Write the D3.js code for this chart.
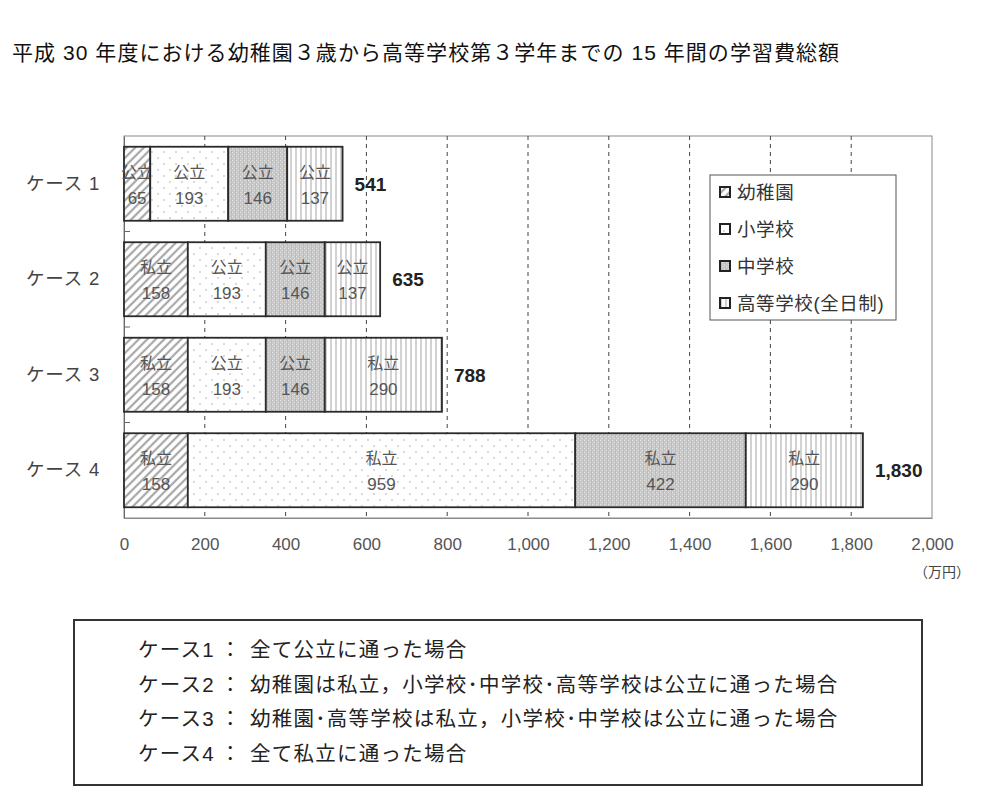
<!DOCTYPE html>
<html>
<head>
<meta charset="utf-8">
<script src="https://cdn.jsdelivr.net/npm/d3@7"></script>
<style>
  body { margin: 0; background: #fff; }
  text { font-family: "Liberation Sans", "Noto Sans CJK JP", sans-serif; }
</style>
</head>
<body>
<div id="chart"></div>
<script>
// data
var cases       = ['ケース 1', 'ケース 2', 'ケース 3', 'ケース 4'];
var stages      = ['幼稚園', '小学校', '中学校', '高等学校(全日制)'];
var kinder      = [65, 158, 158, 158];
var elementary  = [193, 193, 193, 959];
var junior      = [146, 146, 146, 422];
var high        = [137, 137, 290, 290];
var kinderType  = ['公立', '私立', '私立', '私立'];
var elemType    = ['公立', '公立', '公立', '私立'];
var juniorType  = ['公立', '公立', '公立', '私立'];
var highType    = ['公立', '公立', '私立', '私立'];
var totals      = [541, 635, 788, 1830];
var x_ticks     = [0, 200, 400, 600, 800, 1000, 1200, 1400, 1600, 1800, 2000];
var notes       = [
	['ケース1', '全て公立に通った場合'],
	['ケース2', '幼稚園は私立，小学校･中学校･高等学校は公立に通った場合'],
	['ケース3', '幼稚園･高等学校は私立，小学校･中学校は公立に通った場合'],
	['ケース4', '全て私立に通った場合']
];

var keys   = ['k', 'e', 'j', 'h'];
var types  = { k: kinderType, e: elemType, j: juniorType, h: highType };
var rows = cases.map(function(c, i){
	return { name: c, k: kinder[i], e: elementary[i], j: junior[i], h: high[i], i: i };
});

var chart_width  = 983;
var chart_height = 799;
var svg = d3.select('#chart')
	.append('svg')
	.attr('width', chart_width)
	.attr('height', chart_height);

// patterns
var defs = svg.append('defs');

var p1 = defs.append('pattern').attr('id', 'p-k')
	.attr('patternUnits', 'userSpaceOnUse')
	.attr('width', 6).attr('height', 6)
	.attr('patternTransform', 'rotate(45)');
p1.append('rect').attr('width', 6).attr('height', 6).attr('fill', '#fff');
p1.append('line').attr('x1', 2).attr('y1', 0).attr('x2', 2).attr('y2', 6)
	.attr('stroke', '#a8a8a8').attr('stroke-width', 2.2);

var p2 = defs.append('pattern').attr('id', 'p-e')
	.attr('patternUnits', 'userSpaceOnUse')
	.attr('width', 12).attr('height', 12);
p2.append('rect').attr('width', 12).attr('height', 12).attr('fill', '#fff');
p2.append('circle').attr('cx', 2).attr('cy', 2).attr('r', 0.8).attr('fill', '#aaa');
p2.append('circle').attr('cx', 8).attr('cy', 8).attr('r', 0.8).attr('fill', '#aaa');

var p3 = defs.append('pattern').attr('id', 'p-j')
	.attr('patternUnits', 'userSpaceOnUse')
	.attr('width', 4).attr('height', 4);
p3.append('rect').attr('width', 4).attr('height', 4).attr('fill', '#c9c9c9');
p3.append('rect').attr('x', 0).attr('y', 0).attr('width', 1).attr('height', 1).attr('fill', '#e4e4e4');
p3.append('rect').attr('x', 2).attr('y', 2).attr('width', 1).attr('height', 1).attr('fill', '#e4e4e4');
p3.append('rect').attr('x', 3).attr('y', 0).attr('width', 1).attr('height', 4).attr('fill', '#bdbdbd');

var p4 = defs.append('pattern').attr('id', 'p-h')
	.attr('patternUnits', 'userSpaceOnUse')
	.attr('width', 5).attr('height', 5);
p4.append('rect').attr('width', 5).attr('height', 5).attr('fill', '#fff');
p4.append('line').attr('x1', 1).attr('y1', 0).attr('x2', 1).attr('y2', 5)
	.attr('stroke', '#b4b4b4').attr('stroke-width', 1.2);

// title
svg.append('text')
	.attr('x', 12).attr('y', 60)
	.attr('font-size', 21)
	.attr('letter-spacing', 1.05)
	.attr('fill', '#111')
	.text('平成 30 年度における幼稚園３歳から高等学校第３学年までの 15 年間の学習費総額');

// scales
var x_scale = d3.scaleLinear()
	.domain([0, 2000])
	.range([124, 932]);

var y_scale = d3.scaleBand()
	.domain(cases)
	.range([136, 518])
	.paddingInner(0.225)
	.paddingOuter(0.1125);

// frame
svg.append('rect')
	.attr('x', x_scale(0)).attr('y', 136)
	.attr('width', x_scale(2000) - x_scale(0)).attr('height', 518 - 136)
	.attr('fill', 'none')
	.attr('stroke', '#8a8a8a');

// grid
svg.selectAll('.grid')
	.data(x_ticks.slice(1, -1))
	.enter()
	.append('line')
	.attr('class', 'grid')
	.attr('x1', function(d){ return x_scale(d); })
	.attr('x2', function(d){ return x_scale(d); })
	.attr('y1', 136).attr('y2', 518)
	.attr('stroke', '#444')
	.attr('stroke-dasharray', '4,4');

// x axis labels
var x_axis = d3.axisBottom(x_scale)
	.tickValues(x_ticks)
	.tickSize(0)
	.tickPadding(20)
	.tickFormat(d3.format(','));
var gx = svg.append('g').attr('transform', 'translate(0,518)').call(x_axis);
gx.select('.domain').attr('stroke', '#8a8a8a');
gx.selectAll('text')
	.attr('font-size', 17)
	.attr('fill', '#555')
	.attr('font-family', '"Liberation Sans", "Noto Sans CJK JP", sans-serif');

svg.append('text')
	.attr('x', 970).attr('y', 577)
	.attr('text-anchor', 'end')
	.attr('font-size', 14)
	.attr('fill', '#444')
	.text('（万円）');

// y axis
var y_axis = d3.axisLeft(y_scale).tickSize(0).tickPadding(24);
var gy = svg.append('g').attr('transform', 'translate(' + x_scale(0) + ',0)').call(y_axis);
gy.select('.domain').attr('stroke', '#666');
gy.selectAll('text')
	.attr('font-size', 18.5)
	.attr('letter-spacing', 0.8)
	.attr('fill', '#444')
	.attr('font-family', '"Noto Sans CJK JP", sans-serif');

// inward ticks between categories
svg.selectAll('.ytick')
	.data(cases.slice(1))
	.enter()
	.append('line')
	.attr('class', 'ytick')
	.attr('x1', x_scale(0)).attr('x2', x_scale(0) + 6)
	.attr('y1', function(d){ return y_scale(d) - y_scale.step() * 0.1125; })
	.attr('y2', function(d){ return y_scale(d) - y_scale.step() * 0.1125; })
	.attr('stroke', '#666');

// stacked bars
var series = d3.stack().keys(keys)(rows);

var groups = svg.selectAll('.series')
	.data(series)
	.enter()
	.append('g')
	.attr('class', 'series');

groups.selectAll('rect')
	.data(function(s){ return s.map(function(d){ d.key = s.key; return d; }); })
	.enter()
	.append('rect')
	.attr('x', function(d){ return x_scale(d[0]); })
	.attr('y', function(d){ return y_scale(d.data.name); })
	.attr('width', function(d){ return x_scale(d[1]) - x_scale(d[0]); })
	.attr('height', y_scale.bandwidth())
	.attr('fill', function(d){ return 'url(#p-' + d.key + ')'; })
	.attr('stroke', '#2a2a2a')
	.attr('stroke-width', 1.8);

// segment labels
groups.selectAll('.type')
	.data(function(s){ return s; })
	.enter()
	.append('text')
	.attr('class', 'type')
	.attr('x', function(d){ return (x_scale(d[0]) + x_scale(d[1])) / 2; })
	.attr('y', function(d){ return y_scale(d.data.name) + 31; })
	.attr('text-anchor', 'middle')
	.attr('font-size', 16)
	.attr('fill', '#555')
	.attr('font-family', '"Noto Sans CJK JP", sans-serif')
	.text(function(d){ return types[d.key][d.data.i]; });

groups.selectAll('.val')
	.data(function(s){ return s; })
	.enter()
	.append('text')
	.attr('class', 'val')
	.attr('x', function(d){ return (x_scale(d[0]) + x_scale(d[1])) / 2; })
	.attr('y', function(d){ return y_scale(d.data.name) + 57; })
	.attr('text-anchor', 'middle')
	.attr('font-size', 17)
	.attr('fill', '#555')
	.text(function(d){ return d[1] - d[0]; });

// totals
svg.selectAll('.total')
	.data(rows)
	.enter()
	.append('text')
	.attr('class', 'total')
	.attr('x', function(d){ return x_scale(d.k + d.e + d.j + d.h) + 12; })
	.attr('y', function(d){ return y_scale(d.name) + y_scale.bandwidth() / 2 + 7; })
	.attr('font-size', 19)
	.attr('font-weight', 'bold')
	.attr('fill', '#222')
	.text(function(d, i){ return d3.format(',')(totals[i]); });

// legend
var legend = svg.append('g').attr('transform', 'translate(710,175)');
legend.append('rect')
	.attr('width', 186).attr('height', 145)
	.attr('fill', '#fff')
	.attr('stroke', '#555');
var items = legend.selectAll('.item')
	.data(stages)
	.enter()
	.append('g')
	.attr('transform', function(d, i){ return 'translate(0,' + (17 + i * 37) + ')'; });
items.append('rect')
	.attr('x', 10).attr('y', -5)
	.attr('width', 10).attr('height', 10)
	.attr('fill', function(d, i){ return 'url(#p-' + keys[i] + ')'; })
	.attr('stroke', '#222')
	.attr('stroke-width', 2);
items.append('text')
	.attr('x', 27).attr('y', 6.5)
	.attr('font-size', 18.5)
	.attr('letter-spacing', 0.6)
	.attr('fill', '#333')
	.attr('font-family', '"Noto Sans CJK JP", sans-serif')
	.text(function(d){ return d; });

// notes box
svg.append('rect')
	.attr('x', 74).attr('y', 620)
	.attr('width', 848).attr('height', 165)
	.attr('fill', 'none')
	.attr('stroke', '#333')
	.attr('stroke-width', 2);

var note = svg.selectAll('.note')
	.data(notes)
	.enter()
	.append('text')
	.attr('class', 'note')
	.attr('y', function(d, i){ return 657 + i * 34.5; })
	.attr('font-size', 20.5)
	.attr('letter-spacing', 1.25)
	.attr('fill', '#222')
	.attr('font-family', '"Liberation Serif", "Noto Sans CJK JP", serif');
note.append('tspan').attr('x', 138).text(function(d){ return d[0]; });
note.append('tspan').attr('x', 220).text('：');
note.append('tspan').attr('x', 250).text(function(d){ return d[1]; });
</script>
</body>
</html>
